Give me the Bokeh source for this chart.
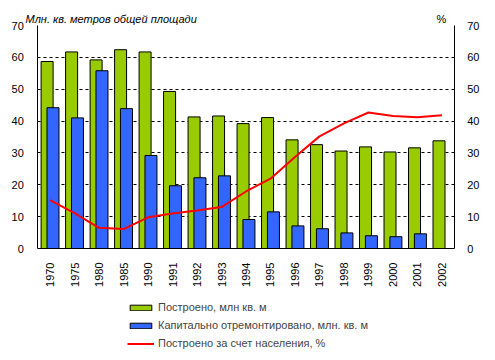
import math
from bokeh.plotting import figure
from bokeh.models import (ColumnDataSource, FactorRange, Range1d, LinearAxis, Grid,
                          FixedTicker, Legend, LegendItem, Label)
from bokeh.transform import dodge
from bokeh.embed import file_html
from bokeh.resources import INLINE

years = ["1970", "1975", "1980", "1985", "1990", "1991", "1992", "1993", "1994",
         "1995", "1996", "1997", "1998", "1999", "2000", "2001", "2002"]
built = [58.7, 61.7, 59.2, 62.4, 61.7, 49.3, 41.3, 41.6, 39.2,
         41.1, 34.1, 32.6, 30.6, 31.9, 30.3, 31.6, 33.8]
repaired = [44.2, 41.0, 55.8, 43.9, 29.2, 19.7, 22.2, 22.8, 9.1,
            11.5, 7.1, 6.2, 4.9, 4.0, 3.7, 4.6, float("nan")]
population_pct = [15.2, 11.1, 6.5, 6.1, 9.8, 11.0, 11.9, 13.0, 17.9,
                  21.9, 28.7, 35.2, 39.3, 42.7, 41.6, 41.2, 41.8]
y_ticks = [0, 10, 20, 30, 40, 50, 60, 70]
grid_ticks = [10, 20, 30, 40, 50, 60]
y_min, y_max = 0, 70

label_built = "Построено, млн кв. м"
label_repaired = "Капитально отремонтировано, млн. кв. м"
label_pct = "Построено за счет населения, %"
left_title = "Млн. кв. метров общей площади"
right_title = "%"

FONT = "Liberation Sans"
W, H = 495, 360
PLOT_TOP, PLOT_BOTTOM = 25, 248          # pixel rows of 70 and 0
PLOT_LEFT = 37.3                          # pixel column of the left axis
BORDER_RIGHT = 4

px_per_unit = (PLOT_BOTTOM - PLOT_TOP) / (y_max - y_min)
y_lo = y_min - (H - PLOT_BOTTOM) / px_per_unit
y_hi = y_max + PLOT_TOP / px_per_unit
frame_w = W - BORDER_RIGHT
n = len(years)
# padding (in categories) so that the categories start at PLOT_LEFT
cat_w = (frame_w - 2 * PLOT_LEFT) / n
pad_units = PLOT_LEFT / cat_w
range_padding = 2 * pad_units / n

src = ColumnDataSource(dict(year=years, built=built, repaired=repaired, pct=population_pct))

p = figure(width=W, height=H, output_backend="svg", toolbar_location=None,
           x_range=FactorRange(factors=years, range_padding=range_padding,
                               range_padding_units="percent"),
           y_range=Range1d(y_lo, y_hi),
           min_border=0, min_border_right=BORDER_RIGHT,
           x_axis_location=None, y_axis_location=None)
p.extra_y_ranges = {"pct": Range1d(y_lo, y_hi)}
p.outline_line_color = None
p.background_fill_color = "white"
p.grid.visible = False

# horizontal dashed grid only between the two vertical axes
grid = Grid(dimension=1, ticker=FixedTicker(ticks=grid_ticks),
            grid_line_color="black", grid_line_dash="3 3", grid_line_width=1)
if "cross_bounds" in Grid.properties():
    grid.cross_bounds = (0, n)
p.add_layout(grid)

g = p.vbar(x=dodge("year", -0.12, range=p.x_range), top="built", width=0.49, source=src,
           fill_color="#99CC00", line_color="black", line_width=1)
b = p.vbar(x=dodge("year", 0.12, range=p.x_range), top="repaired", width=0.49, source=src,
           fill_color="#3366FF", line_color="black", line_width=1)
r = p.line(x="year", y="pct", source=src, y_range_name="pct", line_color="#FF0000", line_width=2)

def style_axis(ax):
    ax.axis_line_color = "black"
    ax.major_tick_line_color = None
    ax.minor_tick_line_color = None
    ax.major_label_text_font = FONT
    ax.major_label_text_font_size = "11px"
    ax.major_label_text_color = "black"

from bokeh.models import CategoricalAxis
xax = CategoricalAxis(fixed_location=y_min, bounds=(0, n))
style_axis(xax)
xax.major_label_orientation = math.pi / 2
xax.major_label_standoff = 8
p.add_layout(xax, "below")

lax = LinearAxis(fixed_location=0, bounds=(y_min, y_max), ticker=FixedTicker(ticks=y_ticks))
style_axis(lax)
lax.major_label_standoff = 8
p.add_layout(lax, "left")

rax = LinearAxis(fixed_location=n, y_range_name="pct", bounds=(y_min, y_max),
                 ticker=FixedTicker(ticks=y_ticks))
style_axis(rax)
rax.major_label_standoff = 7
p.add_layout(rax, "right")

legend = Legend(items=[LegendItem(label=label_built, renderers=[g]),
                       LegendItem(label=label_repaired, renderers=[b]),
                       LegendItem(label=label_pct, renderers=[r])],
                location=(127, 11), orientation="vertical",
                glyph_width=27, glyph_height=7, label_height=12, spacing=6,
                padding=0, margin=0, border_line_color=None, background_fill_alpha=0,
                label_text_font=FONT, label_text_font_size="11px", label_standoff=4)
p.add_layout(legend)

p.add_layout(Label(x=25, y=H - 18, x_units="screen", y_units="screen", text=left_title,
                   text_font=FONT, text_font_size="11px", text_font_style="italic",
                   text_baseline="alphabetic", text_color="black"))
p.add_layout(Label(x=436, y=H - 18, x_units="screen", y_units="screen", text=right_title,
                   text_font=FONT, text_font_size="11px",
                   text_baseline="alphabetic", text_color="black"))

open("out.html", "w").write(file_html(p, INLINE))
